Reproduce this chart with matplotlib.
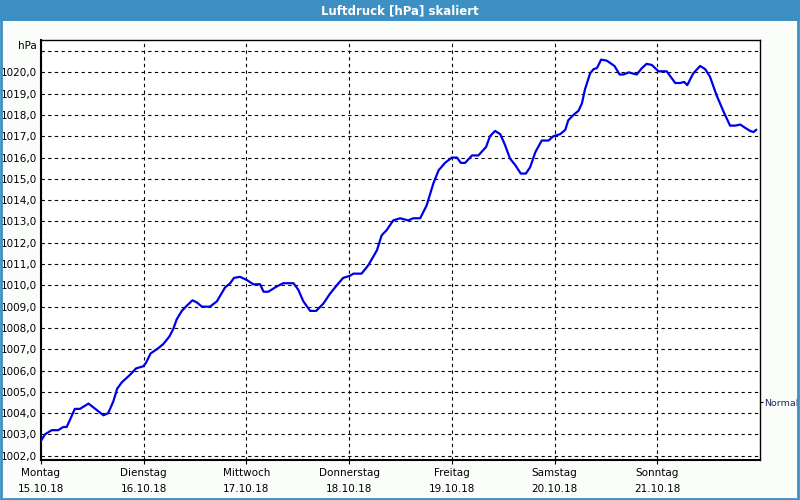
import matplotlib
matplotlib.use("Agg")
import matplotlib.pyplot as plt
from matplotlib.patches import Rectangle

# hours since Monday 15.10.18 00:00 and pressure in hPa
hours = [0, 0.9, 2.5, 4.0, 5.2, 6.0, 6.8, 7.9, 9.1, 11.1, 13.0, 14.6, 15.7, 16.9,
         17.8, 18.9, 20.8, 22.2, 23.9, 24.5, 25.6, 27.4, 28.6, 30.0, 30.9, 31.7,
         32.9, 34.1, 35.4, 36.4, 37.6, 39.5, 41.1, 43.0, 44.2, 45.1, 46.5, 48.1,
         49.6, 51.2, 52.0, 53.1, 55.1, 56.6, 59.0, 60.1, 61.3, 62.9, 64.3, 66.0,
         67.5, 69.1, 70.6, 72.2, 73.0, 74.9, 76.5, 78.5, 79.6, 80.8, 82.3, 83.9,
         85.8, 87.0, 88.6, 90.1, 91.7, 92.9, 94.4, 96.0, 97.2, 98.1, 99.1, 100.7,
         102.2, 104.0, 104.9, 106.1, 107.3, 108.4, 109.6, 110.8, 112.1, 113.3,
         114.3, 115.5, 117.0, 118.6, 119.7, 121.3, 122.5, 123.2, 124.4, 125.6,
         126.4, 127.1, 128.3, 129.1, 129.9, 130.9, 132.2, 134.0, 135.2, 136.1,
         137.3, 139.2, 140.4, 141.5, 142.7, 144.3, 146.2, 148.2, 149.3, 150.3,
         151.0, 152.4, 154.0, 155.2, 156.3, 157.9, 159.5, 161.0, 162.2, 163.4,
         164.5, 165.7, 166.5, 167.1]
pressure = [1002.7, 1003.0, 1003.2, 1003.2, 1003.35, 1003.35, 1003.7, 1004.2, 1004.2,
            1004.45, 1004.15, 1003.9, 1004.0, 1004.55, 1005.15, 1005.45, 1005.8,
            1006.1, 1006.2, 1006.35, 1006.8, 1007.05, 1007.25, 1007.6, 1007.95,
            1008.4, 1008.8, 1009.05, 1009.3, 1009.2, 1009.0, 1009.0, 1009.25,
            1009.9, 1010.1, 1010.35, 1010.4, 1010.25, 1010.05, 1010.05, 1009.7,
            1009.7, 1009.95, 1010.1, 1010.1, 1009.8, 1009.25, 1008.8, 1008.8,
            1009.15, 1009.6, 1010.0, 1010.35, 1010.45, 1010.55, 1010.55, 1010.95,
            1011.65, 1012.35, 1012.6, 1013.05, 1013.15, 1013.05, 1013.15, 1013.15,
            1013.75, 1014.8, 1015.4, 1015.75, 1016.0, 1016.0, 1015.75, 1015.75,
            1016.1, 1016.1, 1016.5, 1017.0, 1017.25, 1017.1, 1016.6, 1015.95,
            1015.65, 1015.25, 1015.25, 1015.55, 1016.25, 1016.8, 1016.8, 1017.0,
            1017.1, 1017.3, 1017.75, 1018.0, 1018.2, 1018.55, 1019.2, 1019.95,
            1020.15, 1020.2, 1020.6, 1020.55, 1020.3, 1019.9, 1019.9, 1020.0,
            1019.9, 1020.2, 1020.4, 1020.35, 1020.05, 1020.05, 1019.5, 1019.5,
            1019.55, 1019.4, 1019.95, 1020.3, 1020.15, 1019.8, 1018.9, 1018.15,
            1017.5, 1017.5, 1017.55, 1017.4, 1017.25, 1017.2, 1017.3]

days = ["Montag", "Dienstag", "Mittwoch", "Donnerstag", "Freitag", "Samstag", "Sonntag"]
dates = ["15.10.18", "16.10.18", "17.10.18", "18.10.18", "19.10.18", "20.10.18", "21.10.18"]
y_ticks = list(range(1002, 1022))
normal_level = 1004.5

plt.rcParams['font.family'] = ['DejaVu Sans']
fig = plt.figure(figsize=(8, 5), dpi=100, facecolor="#fbfdfb")

# title bar and blue frame
fig.patches.append(Rectangle((0, 0.958), 1, 0.042, transform=fig.transFigure,
                             facecolor="#3d8fc4", edgecolor="none", zorder=0))
fig.patches.append(Rectangle((0.001, 0.002), 0.997, 0.996, transform=fig.transFigure,
                             facecolor="none", edgecolor="#3d8fc4", lw=2, zorder=1))
fig.text(0.5, 0.979, "Luftdruck [hPa] skaliert", color="white", fontsize=8.5,
         fontweight="bold", ha="center", va="center")

ax = fig.add_axes([0.05125, 0.08, 0.89875, 0.84])
ax.set_facecolor("white")
ax.plot(hours, pressure, color="#0000e6", lw=1.6, zorder=3)

ax.set_xlim(0, 168)
ax.set_ylim(1001.8, 1021.52)
ax.set_xticks([24 * i for i in range(len(days))])
ax.set_xticklabels([d + "\n" + t for d, t in zip(days, dates)], fontsize=7.5,
                   linespacing=1.75)
ax.set_yticks(y_ticks)
ax.set_yticklabels([f"{v},0" for v in y_ticks[:-1]] + [""], fontsize=7.5)
ax.tick_params(axis="x", direction="out", length=3, pad=3)
ax.tick_params(axis="y", length=0, pad=3)
ax.grid(True, color="black", linestyle=(0, (3, 3)), lw=0.8)
for side in ["left", "bottom"]:
    ax.spines[side].set_linewidth(1.5)
for side in ["top", "right"]:
    ax.spines[side].set_linewidth(1.0)
fig.text(0.046, 0.908, "hPa", fontsize=7.5, ha="right", va="center")

ax2 = ax.twinx()
ax2.set_ylim(ax.get_ylim())
ax2.set_yticks([normal_level])
ax2.set_yticklabels(["Normal"], fontsize=6.8, color="#202a60")
ax2.tick_params(axis="y", length=2.5, pad=0.5)
for s in ax2.spines.values():
    s.set_visible(False)

fig.savefig("out.png", dpi=100, facecolor=fig.get_facecolor())
